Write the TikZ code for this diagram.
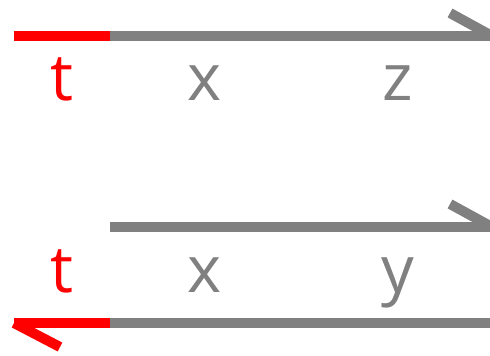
\documentclass[tikz,border=0pt]{standalone}
\usepackage{fontspec}
\setmainfont{Open Sans}
\definecolor{lightgray}{RGB}{128,128,128}
\definecolor{pured}{RGB}{255,0,0}
\tikzset{
  seg/.style={line width=10pt, line cap=butt},
  lbl/.style={font=\fontsize{65}{65}\selectfont, anchor=base, inner sep=0pt}
}
\begin{document}
\begin{tikzpicture}[x=1pt,y=-1pt]
\useasboundingbox (0,0) rectangle (490,356);
\clip (0,0) rectangle (490,356);
% first row: t -> x -> z
\coordinate (a0) at (14,36);
\coordinate (a1) at (110,36);
\coordinate (a2) at (492,36);
\coordinate (ab) at (450,13);
\draw[seg, pured] (a0) -- (a1);
\draw[seg, lightgray] (a1) -- (a2);
\draw[seg, lightgray] (ab) -- (a2);
\node[lbl, pured] (t1) at (62,100) {t};
\node[lbl, lightgray] (x1) at (205,100) {x};
\node[lbl, lightgray] (z1) at (398,100) {z};
% second row: x -> y above, t <- x below
\coordinate (b1) at (110,227);
\coordinate (b2) at (492,227);
\coordinate (bb) at (450,204);
\draw[seg, lightgray] (b1) -- (b2);
\draw[seg, lightgray] (bb) -- (b2);
\node[lbl, pured] (t2) at (62,292) {t};
\node[lbl, lightgray] (x2) at (205,292) {x};
\node[lbl, lightgray] (y2) at (398,292) {y};
\coordinate (c0) at (14,323);
\coordinate (c1) at (110,323);
\coordinate (c2) at (490,323);
\coordinate (cb) at (60,347);
\draw[seg, lightgray] (c1) -- (c2);
\draw[seg, pured] (c0) -- (c1);
\draw[seg, pured] (c0) -- (cb);
\end{tikzpicture}
\end{document}
